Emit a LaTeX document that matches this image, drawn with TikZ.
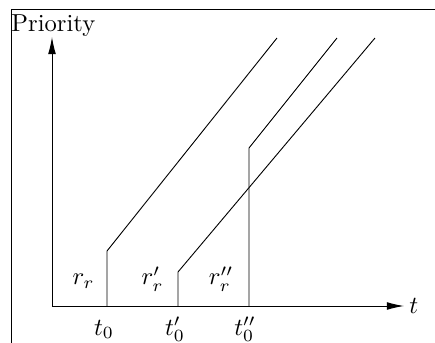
\documentclass[tikz,border=0pt]{standalone}
\usetikzlibrary{arrows.meta}
\begin{document}
\begin{tikzpicture}[x=0.44pt, y=0.44pt,
  axis/.style={-{Latex[length=7.5pt, width=3.4pt]}},
  lbl/.style={anchor=base, inner sep=0pt, scale=1.08}]
  \useasboundingbox (0,0) rectangle (435,343);

  % ===== 边框 =====
  \draw (11,0) -- (11,334) -- (435,334);

  % ===== 坐标轴 =====
  \coordinate (O) at (52,37);
  \draw[axis] (O) -- (52,306) coordinate (ytip);
  \draw[axis] (O) -- (404,37) coordinate (xtip);
  \node[lbl, anchor=base west] (ylabel) at (11,312) {Priority};
  \node[lbl, anchor=base west] (xlabel) at (409,30) {$t$};

  % ===== 优先级曲线 =====
  % 起点x / 跳变高度 / 终点x / r标签 / t标签 / r标签x / t标签x
  \foreach \name/\xs/\yk/\xe/\rlbl/\tlbl/\rx/\tx in {
      a/107/92/277/{r_r}/{t_0}/83.5/104,
      b/178/71/375/{r_r'}/{t_0'}/152.5/175,
      c/249/195/337/{r_r''}/{t_0''}/221/245} {
    \coordinate (\name0) at (\xs,37);
    \coordinate (\name1) at (\xs,\yk);
    \coordinate (\name2) at (\xe,305);
    \draw (\name0) -- (\name1) -- (\name2);
    \node[lbl] (r\name) at (\rx,58) {$\rlbl$};
    \node[lbl] (t\name) at (\tx,8) {$\tlbl$};
  }
\end{tikzpicture}
\end{document}
